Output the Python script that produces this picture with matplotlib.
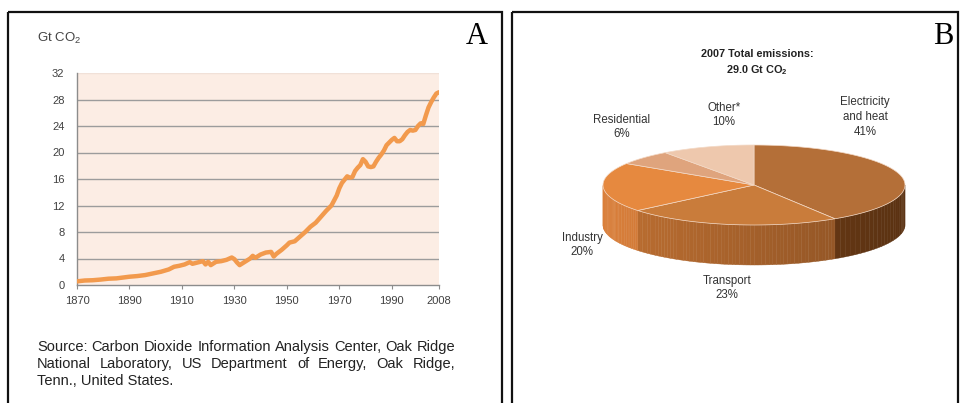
import numpy as np
import matplotlib
matplotlib.use('Agg')
import matplotlib.pyplot as plt
from matplotlib.patches import Polygon, Rectangle
from matplotlib.colors import to_rgb

plt.rcParams['font.family'] = ['Liberation Sans', 'DejaVu Sans']
plt.rcParams['mathtext.fontset'] = 'custom'
plt.rcParams['mathtext.rm'] = 'Liberation Sans'
plt.rcParams['mathtext.bf'] = 'Liberation Sans:bold'

# panel A: global CO2 emissions (Gt CO2)
years = [1870, 1873, 1876, 1879, 1882, 1885, 1888, 1890, 1893, 1896, 1899,
         1902, 1905, 1907, 1909, 1911, 1913, 1914, 1916, 1918, 1919, 1920,
         1921, 1923, 1925, 1927, 1929, 1930, 1931, 1932, 1934, 1936, 1937,
         1938, 1940, 1942, 1944, 1945, 1946, 1947, 1948, 1950, 1951, 1953,
         1955, 1957, 1959, 1961, 1963, 1965, 1967, 1969, 1970, 1971, 1973,
         1974, 1975, 1976, 1977, 1978, 1979, 1980, 1981, 1982, 1983, 1984,
         1985, 1986, 1987, 1988, 1989, 1990, 1991, 1992, 1993, 1994, 1995,
         1996, 1997, 1998, 1999, 2000, 2001, 2002, 2003, 2004, 2005, 2006,
         2007, 2008]
emissions = [0.55, 0.68, 0.72, 0.82, 0.95, 1.0, 1.15, 1.25, 1.35, 1.5, 1.75,
             2.0, 2.35, 2.75, 2.9, 3.1, 3.45, 3.2, 3.4, 3.6, 3.1, 3.5,
             3.0, 3.5, 3.6, 3.8, 4.15, 3.9, 3.4, 3.0, 3.5, 4.0, 4.4,
             4.1, 4.6, 4.9, 5.0, 4.3, 4.7, 5.0, 5.3, 6.0, 6.4, 6.6,
             7.3, 8.0, 8.8, 9.4, 10.3, 11.2, 12.0, 13.5, 14.6, 15.4, 16.4,
             16.2, 16.3, 17.2, 17.7, 18.1, 19.0, 18.6, 17.9, 17.8, 17.9, 18.6,
             19.2, 19.7, 20.3, 21.1, 21.5, 21.9, 22.2, 21.7, 21.7, 22.0, 22.6,
             23.1, 23.4, 23.3, 23.4, 24.0, 24.4, 24.3, 25.6, 26.8, 27.6, 28.3,
             28.9, 29.1]
xticks = [1870, 1890, 1910, 1930, 1950, 1970, 1990, 2008]
yticks = [0, 4, 8, 12, 16, 20, 24, 28, 32]

# panel B: 2007 emissions by sector
sectors = ['Electricity\nand heat', 'Transport', 'Industry', 'Residential', 'Other*']
shares = [41, 23, 20, 6, 10]
top_colors = ['#B46F38', '#C97C3B', '#E6893F', '#DFA47D', '#EEC8AD']
side_colors = ['#7E4519', '#BE6F31', '#DA7F3A', '#D49466', '#E4B896']

source = ['Source: Carbon Dioxide Information Analysis Center, Oak Ridge',
          'National Laboratory, US Department of Energy, Oak Ridge,',
          'Tenn., United States.']

W, H = 961, 403
fig = plt.figure(figsize=(W / 100, H / 100), dpi=100)
canvas = fig.add_axes([0, 0, 1, 1])
canvas.set_xlim(0, W)
canvas.set_ylim(H, 0)
canvas.axis('off')

# panel frames
canvas.add_patch(Rectangle((8, 12), 494, 420, fill=False, lw=1.6, ec='#111111'))
canvas.add_patch(Rectangle((512, 12), 446, 420, fill=False, lw=1.6, ec='#111111'))
canvas.text(477, 36, 'A', family='Liberation Serif', fontsize=22, ha='center', va='center')
canvas.text(943, 36, 'B', family='Liberation Serif', fontsize=22, ha='center', va='center')

# ---- panel A line chart
ax = fig.add_axes([77 / W, 1 - 285 / H, (439 - 77) / W, (285 - 73) / H])
ax.set_facecolor('#FCEDE4')
for v in yticks[1:-1]:
    ax.axhline(v, color='#9C9C9C', lw=1.0, zorder=1)
ax.axhline(yticks[-1], color='#F1E1D8', lw=1.0, zorder=1)
ax.plot(years, emissions, color='#F29A4D', lw=3.2, solid_capstyle='round', zorder=3)
ax.set_xlim(1870, 2008)
ax.set_ylim(0, 32)
ax.set_xticks(xticks)
ax.set_yticks(yticks)
ax.tick_params(axis='x', length=3, width=0.8, color='#8C8C8C', pad=5,
               labelsize=8, labelcolor='#404040')
ax.tick_params(axis='y', length=0, pad=9, labelsize=8, labelcolor='#404040')
for s in ['top', 'right']:
    ax.spines[s].set_visible(False)
for s in ['left', 'bottom']:
    ax.spines[s].set_color('#8C8C8C')
    ax.spines[s].set_linewidth(1.0)
canvas.text(37, 38, 'Gt CO$_2$', fontsize=9.5, color='#444444', va='center')

# justified source note
renderer = fig.canvas.get_renderer()
x0, x1 = 37, 455
for i, line in enumerate(source):
    y = 347 + i * 17
    words = line.split(' ')
    if i == len(source) - 1:
        canvas.text(x0, y, line, fontsize=10.5, color='#222222', va='center')
        continue
    items = [canvas.text(0, y, w, fontsize=10.5, color='#222222', va='center') for w in words]
    widths = [t.get_window_extent(renderer).width for t in items]
    gap = (x1 - x0 - sum(widths)) / (len(words) - 1)
    pos = x0
    for t, wd in zip(items, widths):
        t.set_x(pos)
        pos += wd + gap

# ---- panel B 3D pie
cx, cy, rx, ry, depth = 754, 185, 151, 40, 40


def ell(t):
    return cx + rx * np.cos(t), cy - ry * np.sin(t)


bounds = 90 - np.concatenate([[0], np.cumsum(shares)]) * 3.6
# side walls (front half only)
for k in range(len(shares)):
    t_hi, t_lo = np.radians(bounds[k]), np.radians(bounds[k + 1])
    edges = np.linspace(t_lo, t_hi, 60)
    base = np.array(to_rgb(side_colors[k]))
    for a, b in zip(edges[:-1], edges[1:]):
        m = (a + b) / 2
        if np.sin(m) >= 0:
            continue
        f = 1.0 - 0.28 * (1 + np.cos(m)) / 2
        xa, ya = ell(a)
        xb, yb = ell(b)
        canvas.add_patch(Polygon([(xa, ya), (xb, yb), (xb, yb + depth), (xa, ya + depth)],
                                 closed=True, fc=base * f, ec=base * f, lw=0.3, zorder=2))
# top faces
for k in range(len(shares)):
    t = np.radians(np.linspace(bounds[k], bounds[k + 1], 80))
    xs, ys = ell(t)
    pts = [(cx, cy)] + list(zip(xs, ys))
    canvas.add_patch(Polygon(pts, closed=True, fc=top_colors[k], ec='#F3D9C6',
                             lw=0.5, zorder=3))

canvas.text(757, 63, '2007 Total emissions:\n29.0 Gt CO$_\\mathbf{2}$', fontsize=7.8,
            fontweight='bold', ha='center', va='center', linespacing=1.35, color='#222222')
label_pos = [(865, 117), (727, 288), (582, 245), (622, 127), (724, 115)]
for name, share, (lx, ly) in zip(sectors, shares, label_pos):
    canvas.text(lx, ly, f'{name}\n{share}%', fontsize=8.3, ha='center', va='center',
                color='#333333', linespacing=1.3)

fig.savefig('out.png', dpi=100)
